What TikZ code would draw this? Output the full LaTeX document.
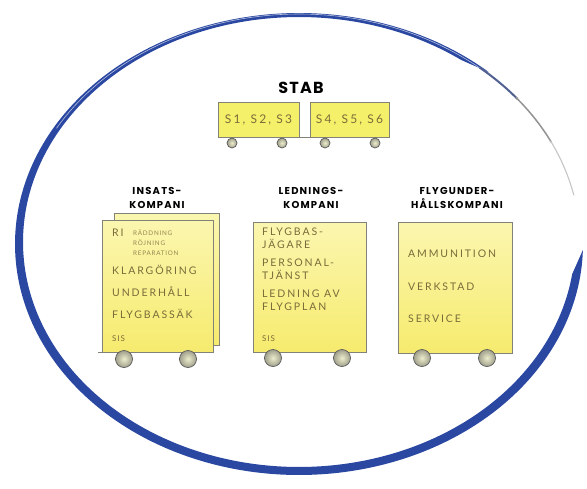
\documentclass[tikz,border=0pt]{standalone}
\usepackage{fontspec}
\setmainfont{Lato}
\newfontfamily\headfont{Poppins}[LetterSpace=12]
\newfontfamily\stabfont{Poppins}[LetterSpace=8]
\newfontfamily\bodyfont{Lato}[LetterSpace=18]
\newfontfamily\smallfont{Lato}[LetterSpace=12]
\definecolor{ringblue}{RGB}{42,72,162}
\definecolor{boxlight}{RGB}{251,246,176}
\definecolor{boxdark}{RGB}{246,235,110}
\definecolor{stabyellow}{RGB}{245,240,105}
\definecolor{txtcol}{RGB}{122,108,58}
\definecolor{smalltxt}{RGB}{150,134,80}
\definecolor{edgecol}{RGB}{130,130,120}
\definecolor{wheelin}{RGB}{236,236,205}
\definecolor{wheelout}{RGB}{160,160,140}
\begin{document}
\begin{tikzpicture}[x=1pt,y=-1pt,
  cbox/.style={draw=edgecol, line width=0.5pt, top color=boxlight, bottom color=boxdark, inner sep=0pt},
  sbox/.style={draw=edgecol, line width=0.5pt, fill=stabyellow, inner sep=0pt, minimum width=80pt, minimum height=35pt,
    font=\bodyfont\fontsize{12}{14}\selectfont, text=txtcol},
  wheel/.style={circle, draw=black!65, line width=0.7pt, inner color=wheelin, outer color=wheelout, minimum size=17pt, inner sep=0pt},
  swheel/.style={wheel, minimum size=10pt},
  head/.style={font=\headfont\bfseries\fontsize{10}{14}\selectfont, align=center, text=black, inner sep=0pt},
  btxt/.style={font=\bodyfont\fontsize{10.5}{12}\selectfont, text=txtcol, anchor=base west, inner sep=0pt},
  stxt/.style={font=\smallfont\fontsize{6.3}{7}\selectfont, text=smalltxt, anchor=base west, inner sep=0pt},
  sistxt/.style={font=\smallfont\fontsize{8}{9}\selectfont, text=txtcol, anchor=base west, inner sep=0pt},
  edge/.style={draw=edgecol, line width=0.5pt}
]
\useasboundingbox (0,0) rectangle (587,488);
\fill[white] (0,0) rectangle (587,488);

% ring
\fill[ringblue] plot[domain=-358.5:-48, samples=240] ({299+284*cos(\x)},{244+231*sin(\x)})
  -- plot[domain=0:1, samples=240] ({299+276*cos(-54-298*\x)},{242+225*sin(-54-298*\x)}) -- cycle;
\draw[ringblue!35!white, line width=0.6pt] plot[domain=-150:-46, samples=120] ({299+280*cos(\x)},{242.6+228.6*sin(\x)});
\draw[ringblue!55!gray, line width=2pt] plot[domain=-50:-39, samples=20] ({299+281*cos(\x)},{243+229*sin(\x)});
\draw[gray!85, line width=1.5pt] plot[domain=-39.5:-26, samples=20] ({299+281*cos(\x)},{243+229*sin(\x)});
\draw[gray!45, line width=1.1pt] plot[domain=-26.5:-12, samples=20] ({299+281*cos(\x)},{243+229*sin(\x)});

% STAB
\node[font=\stabfont\bfseries\fontsize{16}{18}\selectfont, inner sep=0pt] (stab) at (301,88) {STAB};
\node[sbox, minimum width=81pt] (s1) at (258.5,119.5) {S1, S2, S3};
\node[sbox, minimum width=79pt] (s2) at (349.5,119.5) {S4, S5, S6};
\draw[edge] (s1.south west) -- (s2.south east);
\node[swheel] (sw1) at (232,143) {};
\node[swheel] (sw2) at (282,143) {};
\node[swheel] (sw3) at (325,143) {};
\node[swheel] (sw4) at (375,143) {};

% headers
\node[head] (hins) at (157,198) {INSATS-\\KOMPANI};
\node[head] (hled) at (311,198) {LEDNINGS-\\KOMPANI};
\node[head] (hfly) at (457,198) {FLYGUNDER-\\HÅLLSKOMPANI};

% Insats
\node[cbox, minimum width=105pt, minimum height=132pt] (insB) at (166.5,279) {};
\node[cbox, minimum width=111pt, minimum height=132pt] (insF) at (157.5,286) {};
\draw[edge] (insF.south west) -- ++(-4,0);
\node[btxt] (ri) at (112,236) {RI};
\node[stxt] (rad) at (133,235) {RÄDDNING};
\node[stxt] (roj) at (133,245) {RÖJNING};
\node[stxt] (rep) at (133,255) {REPARATION};
\node[btxt] (kla) at (112,274) {KLARGÖRING};
\node[btxt] (und) at (112,296) {UNDERHÅLL};
\node[btxt] (fbs) at (112,318) {FLYGBASSÄK};
\node[sistxt] (sis1) at (112,341) {SIS};
\node[wheel] (iw1) at (124,359) {};
\node[wheel] (iw2) at (188,359) {};

% Lednings
\node[cbox, minimum width=113pt, minimum height=130pt] (led) at (309.5,287) {};
\node[btxt] (fbj1) at (262,235) {FLYGBAS-};
\node[btxt] (fbj2) at (262,248) {JÄGARE};
\node[btxt] (per1) at (262,266) {PERSONAL-};
\node[btxt] (per2) at (262,279) {TJÄNST};
\node[btxt] (lav1) at (262,297) {LEDNING AV};
\node[btxt] (lav2) at (262,310) {FLYGPLAN};
\node[sistxt] (sis2) at (262,341) {SIS};
\node[wheel] (lw1) at (273,358) {};
\node[wheel] (lw2) at (342,358) {};

% Flygunderhall
\node[cbox, minimum width=114pt, minimum height=131pt] (fly) at (455,287.5) {};
\node[btxt] (amm) at (408,257) {AMMUNITION};
\node[btxt] (ver) at (408,290) {VERKSTAD};
\node[btxt] (ser) at (408,322) {SERVICE};
\node[wheel] (fw1) at (422,358) {};
\node[wheel] (fw2) at (487,358) {};
\end{tikzpicture}
\end{document}
